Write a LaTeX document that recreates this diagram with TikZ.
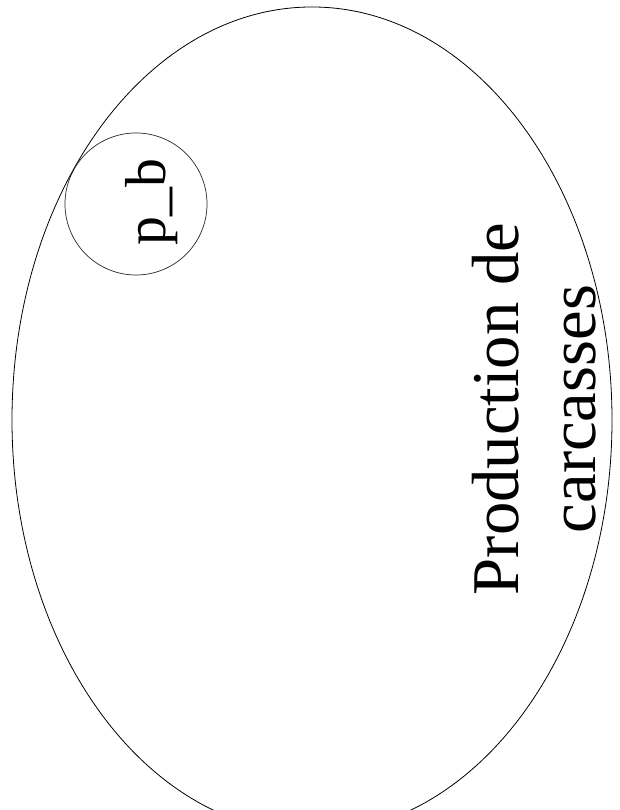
\documentclass[tikz,border=0pt]{standalone}
\usepackage{fontspec}
\setmainfont{Liberation Serif}
\usetikzlibrary{shapes.geometric,positioning}

\begin{document}
\begin{tikzpicture}[
  x=1bp, y=1bp,
  %% Node styles
  process/.style={
    ellipse, draw=black, line width=0.8pt,
    minimum width=600bp, minimum height=826bp, inner sep=0pt
  },
  port/.style={
    circle, draw=black!85, line width=0.7pt,
    minimum size=142bp, inner sep=0pt
  },
  %% Text styles
  plabel/.style={rotate=90, inner sep=0pt, font=\fontsize{58}{66}\selectfont},
  ptitle/.style={rotate=90, inner sep=0pt, align=center,
                 font=\fontsize{67}{77}\selectfont},
]
\useasboundingbox (0,0) rectangle (620,810);
\clip (0,0) rectangle (620,810);

%% ── Process ────────────────────────────────────────────────────────────────
\node[process] (prod) at (312,390) {};
\node[ptitle, anchor=center] (prodlabel) at (534,401) {Production de\\carcasses};

%% ── Port ───────────────────────────────────────────────────────────────────
\node[port] (pb) at (136,606) {};
\node[plabel, anchor=base] (pblabel) at (165,608) {p\_b};

\end{tikzpicture}
\end{document}
